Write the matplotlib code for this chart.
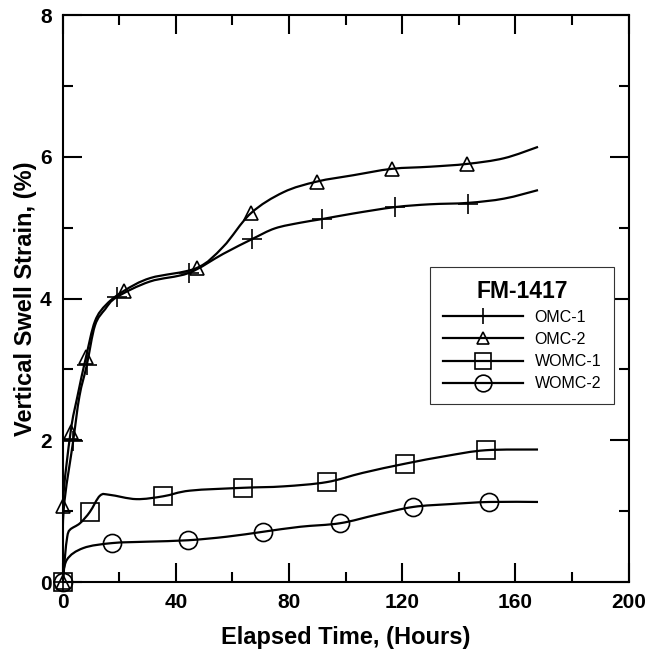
import matplotlib
matplotlib.use('Agg')
import matplotlib.pyplot as plt
import numpy as np
from matplotlib.path import Path
from matplotlib.patches import PathPatch
from matplotlib.lines import Line2D
from matplotlib.ticker import MultipleLocator

plt.rcParams['font.family'] = ['Liberation Sans', 'DejaVu Sans']

# Puntos medidos (marcadores)
omc1_t = [0, 3.7, 8.5, 19.1, 44.5, 67, 91.5, 117.4, 143.3]
omc1_s = [0, 1.99, 3.06, 4.02, 4.36, 4.84, 5.12, 5.29, 5.34]
omc2_t = [0, 0, 2.8, 8.2, 21.7, 47.3, 66.4, 89.8, 116.3, 143]
omc2_s = [0, 1.08, 2.12, 3.17, 4.11, 4.43, 5.2, 5.65, 5.83, 5.9]
womc1_t = [0, 9.6, 35.5, 63.8, 93.3, 121, 149.5]
womc1_s = [0, 0.99, 1.21, 1.33, 1.41, 1.67, 1.86]
womc2_t = [0, 17.5, 44.4, 70.9, 98, 123.9, 150.7]
womc2_s = [0, 0.55, 0.59, 0.71, 0.83, 1.06, 1.13]

# Curvas suavizadas
omc1_ct = [0, 0.3, 3.7, 5.9, 8.5, 11.4, 15, 19.1, 30.8, 44.5, 56.7, 67, 75, 84, 91.5,
           102.7, 117.4, 129.8, 143.3, 156, 168]
omc1_cs = [0, 1.0, 1.99, 2.62, 3.06, 3.62, 3.85, 4.02, 4.24, 4.36, 4.63, 4.84, 4.99, 5.07, 5.12,
           5.2, 5.29, 5.33, 5.35, 5.41, 5.53]
omc2_ct = [0, 0, 2.8, 5.2, 8.2, 11.4, 15.5, 21.7, 31, 47.3, 56.7, 66.4, 78, 89.8,
           102.7, 116.3, 129.8, 143, 156, 168]
omc2_cs = [0, 1.08, 2.12, 2.62, 3.17, 3.68, 3.92, 4.11, 4.29, 4.43, 4.73, 5.2, 5.5, 5.65,
           5.74, 5.83, 5.86, 5.9, 5.98, 6.14]
womc1_ct = [0, 0.8, 1.6, 2.6, 6.1, 9.6, 13.2, 16.7, 26, 35.5, 45, 63.8, 78, 93.3,
            106, 121, 135.7, 149.5, 168]
womc1_cs = [0, 0.36, 0.64, 0.74, 0.83, 0.99, 1.22, 1.23, 1.17, 1.21, 1.29, 1.33, 1.35, 1.41,
            1.54, 1.67, 1.78, 1.86, 1.87]
womc2_ct = [0, 1.4, 7.3, 17.5, 30, 44.4, 58, 70.9, 83.9, 98, 111, 123.9, 137, 150.7, 168]
womc2_cs = [0, 0.31, 0.48, 0.55, 0.57, 0.59, 0.64, 0.71, 0.78, 0.83, 0.95, 1.06, 1.1, 1.13, 1.13]

labels = ['OMC-1', 'OMC-2', 'WOMC-1', 'WOMC-2']
markers = ['+', '^', 's', 'o']
msizes = [14, 10, 13, 13]


def smooth_path(t, s):
    # curva tipo Catmull-Rom dibujada con Bezier de matplotlib
    p = np.column_stack([t, s]).astype(float)
    verts = [p[0]]
    codes = [Path.MOVETO]
    n = len(p)
    for i in range(n - 1):
        p0 = p[i - 1] if i > 0 else p[i]
        p3 = p[i + 2] if i + 2 < n else p[i + 1]
        verts += [p[i] + (p[i + 1] - p0) / 6, p[i + 1] - (p3 - p[i]) / 6, p[i + 1]]
        codes += [Path.CURVE4] * 3
    return Path(verts, codes)


fig = plt.figure(figsize=(6.5, 6.54), dpi=100)
ax = fig.add_axes([0.0965, 0.110, 0.8705, 0.867])

curves = [(omc1_ct, omc1_cs), (omc2_ct, omc2_cs), (womc1_ct, womc1_cs), (womc2_ct, womc2_cs)]
points = [(omc1_t, omc1_s), (omc2_t, omc2_s), (womc1_t, womc1_s), (womc2_t, womc2_s)]

for (ct, cs), (mt, ms), mk, sz in zip(curves, points, markers, msizes):
    ax.add_patch(PathPatch(smooth_path(ct, cs), facecolor='none', edgecolor='black', lw=1.6))
    ax.plot(mt, ms, linestyle='none', marker=mk, markersize=sz, markerfacecolor='none',
            markeredgecolor='black', markeredgewidth=1.2, clip_on=False, zorder=3)

ax.set_xlim(0, 200)
ax.set_ylim(0, 8)
ax.xaxis.set_major_locator(MultipleLocator(40))
ax.xaxis.set_minor_locator(MultipleLocator(20))
ax.yaxis.set_major_locator(MultipleLocator(2))
ax.yaxis.set_minor_locator(MultipleLocator(1))
ax.tick_params(which='both', direction='in', top=True, right=True, width=1.5)
ax.tick_params(which='major', length=14, labelsize=15, pad=8)
ax.tick_params(which='minor', length=7)
for lab in ax.get_xticklabels() + ax.get_yticklabels():
    lab.set_fontweight('bold')
for sp in ax.spines.values():
    sp.set_linewidth(1.5)

ax.set_xlabel('Elapsed Time, (Hours)', fontsize=17, fontweight='bold', labelpad=10)
ax.set_ylabel('Vertical Swell Strain, (%)', fontsize=17, fontweight='bold', labelpad=2)

handles = [Line2D([0], [0], color='black', lw=1.6, marker=mk, markersize=sz,
                  markerfacecolor='none', markeredgecolor='black', markeredgewidth=1.2)
           for mk, sz in zip(markers, [12, 8, 11, 12])]
leg = ax.legend(handles, labels, title='FM-1417', loc='upper left',
                bbox_to_anchor=(0.649, 0.556), borderaxespad=0, fontsize=11.5,
                handlelength=5.0, handletextpad=0.75, labelspacing=0.45, borderpad=0.8,
                fancybox=False, framealpha=1, edgecolor='#333333')
leg.get_title().set_fontsize(16.5)
leg.get_title().set_fontweight('bold')
leg.get_frame().set_linewidth(0.8)

plt.savefig('out.png', dpi=100)
